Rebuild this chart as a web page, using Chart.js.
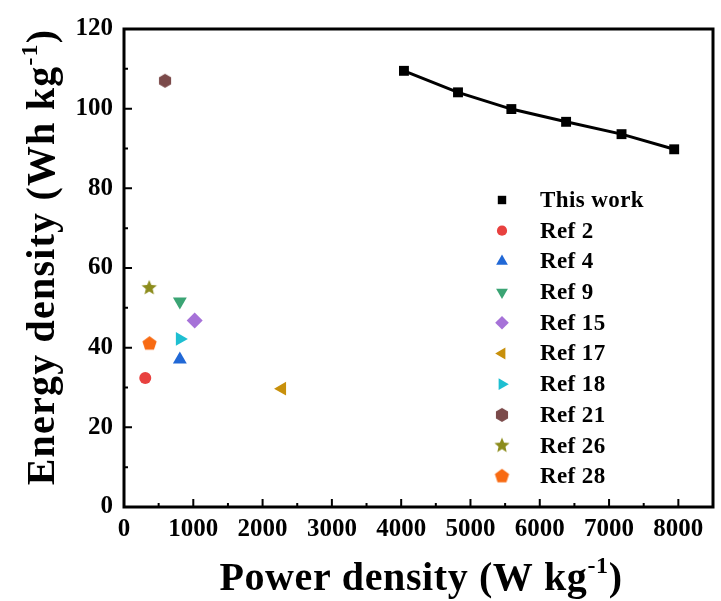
<!DOCTYPE html>
<html>
<head>
<meta charset="utf-8">
<script src="https://cdn.jsdelivr.net/npm/chart.js@4.4.0/dist/chart.umd.min.js"></script>
<style>
  html, body { margin: 0; padding: 0; background: #fff; }
  #grafica { display: block; }
</style>
</head>
<body>
<canvas id="grafica" width="721" height="601"></canvas>
<script>
// ===== Datos =====
const thisWorkPower  = [4040, 4820, 5590, 6380, 7180, 7940];
const thisWorkEnergy = [109.5, 104.1, 99.9, 96.7, 93.6, 89.8];

const refLabels = ['Ref 2', 'Ref 4', 'Ref 9', 'Ref 15', 'Ref 17', 'Ref 18', 'Ref 21', 'Ref 26', 'Ref 28'];
const refPower  = [307, 806, 806, 1020, 2281, 806, 592, 364, 368];
const refEnergy = [32.4, 37.0, 51.6, 46.8, 29.7, 42.2, 107.0, 55.0, 41.0];

const xTicks = [0, 1000, 2000, 3000, 4000, 5000, 6000, 7000, 8000];
const yTicks = [0, 20, 40, 60, 80, 100, 120];

const SERIF = '"Liberation Serif", "Times New Roman", serif';

// marcadores propios (hexágono, pentágono, estrella)
function polygonMarker(sides, r, color, start) {
  const c = document.createElement('canvas');
  const s = Math.ceil(r * 2 + 2);
  c.width = c.height = s;
  const g = c.getContext('2d');
  g.fillStyle = color;
  g.beginPath();
  for (let k = 0; k < sides; k++) {
    const a = start + k * 2 * Math.PI / sides;
    const px = s / 2 + r * Math.cos(a), py = s / 2 + r * Math.sin(a);
    if (k) g.lineTo(px, py); else g.moveTo(px, py);
  }
  g.closePath();
  g.fill();
  return c;
}
function starMarker(r, color) {
  const c = document.createElement('canvas');
  const s = Math.ceil(r * 2 + 2);
  c.width = c.height = s;
  const g = c.getContext('2d');
  g.fillStyle = color;
  g.beginPath();
  for (let k = 0; k < 10; k++) {
    const a = -Math.PI / 2 + k * Math.PI / 5;
    const rr = k % 2 ? r * 0.45 : r;
    const px = s / 2 + rr * Math.cos(a), py = s / 2 + rr * Math.sin(a);
    if (k) g.lineTo(px, py); else g.moveTo(px, py);
  }
  g.closePath();
  g.fill();
  return c;
}

// estilo de cada referencia
const refStyles = [
  { color: '#e8413f', style: 'circle',   rot: 0,   r: 6 },
  { color: '#2168d6', style: 'triangle', rot: 0,   r: 8 },
  { color: '#3ba474', style: 'triangle', rot: 180, r: 8 },
  { color: '#a672d8', style: 'rectRot',  rot: 0,   r: 8 },
  { color: '#c8900b', style: 'triangle', rot: 270, r: 8 },
  { color: '#1ebfd1', style: 'triangle', rot: 90,  r: 8 },
  { color: '#7b4a4a', style: polygonMarker(6, 7, '#7b4a4a', Math.PI / 2), rot: 0, r: 7 },
  { color: '#8c8c1c', style: starMarker(8, '#8c8c1c'), rot: 0, r: 8 },
  { color: '#f86a12', style: polygonMarker(5, 7.5, '#f86a12', -Math.PI / 2), rot: 0, r: 7 }
];

const datasets = [{
  label: 'This work',
  data: thisWorkPower.map((x, i) => ({ x: x, y: thisWorkEnergy[i] })),
  showLine: true,
  borderColor: '#000',
  backgroundColor: '#000',
  borderWidth: 3,
  pointStyle: 'rect',
  pointRadius: 7,
  pointBorderWidth: 0,
  clip: false
}];
refLabels.forEach((lab, i) => {
  const st = refStyles[i];
  datasets.push({
    label: lab,
    data: [{ x: refPower[i], y: refEnergy[i] }],
    backgroundColor: st.color,
    borderColor: st.color,
    pointStyle: st.style,
    pointRotation: st.rot,
    pointRadius: st.r,
    pointBorderWidth: 0,
    clip: false
  });
});

// ===== Plugin: marco, ticks hacia adentro, títulos y leyenda =====
const framePlugin = {
  id: 'frame',
  afterDraw(chart) {
    const ctx = chart.ctx;
    const a = chart.chartArea;
    const xs = chart.scales.x, ys = chart.scales.y;
    ctx.save();
    ctx.strokeStyle = '#000';
    ctx.lineWidth = 2;
    ctx.beginPath();
    for (let v = 500; v < 8500; v += 500) {
      const px = xs.getPixelForValue(v);
      const len = v % 1000 === 0 ? 8 : 4;
      ctx.moveTo(px, a.bottom);
      ctx.lineTo(px, a.bottom - len);
    }
    for (let v = 10; v < 120; v += 10) {
      const py = ys.getPixelForValue(v);
      const len = v % 20 === 0 ? 8 : 4;
      ctx.moveTo(a.left, py);
      ctx.lineTo(a.left + len, py);
    }
    ctx.stroke();
    ctx.lineWidth = 3;
    ctx.strokeRect(a.left, a.top, a.right - a.left, a.bottom - a.top);

    // títulos con superíndice
    function drawTitle(parts, cx, baseY, size, spacing) {
      ctx.letterSpacing = spacing + 'px';
      let w = 0;
      parts.forEach(p => {
        ctx.font = 'bold ' + (p.sup ? size * 0.6 : size) + 'px ' + SERIF;
        p.w = ctx.measureText(p.text).width;
        w += p.w;
      });
      let x = cx - w / 2;
      ctx.textBaseline = 'alphabetic';
      ctx.textAlign = 'left';
      parts.forEach(p => {
        ctx.font = 'bold ' + (p.sup ? size * 0.6 : size) + 'px ' + SERIF;
        ctx.fillText(p.text, x, p.sup ? baseY - size * 0.42 : baseY);
        x += p.w;
      });
      ctx.letterSpacing = '0px';
    }
    ctx.fillStyle = '#000';
    drawTitle([{ text: 'Power density (W kg' }, { text: '-1', sup: true }, { text: ')' }], 421, 590, 40, 0.6);
    ctx.save();
    ctx.translate(54, 257);
    ctx.rotate(-Math.PI / 2);
    drawTitle([{ text: 'Energy density (Wh kg' }, { text: '-1', sup: true }, { text: ')' }], 0, 0, 40, 1.2);
    ctx.restore();

    // leyenda
    const helpers = Chart.helpers;
    chart.data.datasets.forEach((ds, i) => {
      const y = 200 + i * 30.7;
      ctx.fillStyle = ds.backgroundColor;
      ctx.strokeStyle = ds.backgroundColor;
      if (helpers && helpers.drawPoint) {
        helpers.drawPoint(ctx, {
          pointStyle: ds.pointStyle,
          rotation: ds.pointRotation || 0,
          radius: ds.pointRadius * 0.85,
          borderWidth: 0
        }, 502, y);
      }
      ctx.fillStyle = '#000';
      ctx.font = 'bold 23px ' + SERIF;
      ctx.letterSpacing = '0.4px';
      ctx.textAlign = 'left';
      ctx.textBaseline = 'middle';
      ctx.fillText(ds.label, 540, y + 1);
      ctx.letterSpacing = '0px';
    });
    ctx.restore();
  }
};

document.addEventListener('DOMContentLoaded', function () {
  const canvas = document.getElementById('grafica');
  if (!canvas || typeof Chart === 'undefined') {
    console.warn('Chart.js no está cargado o #grafica no existe');
    return;
  }
  new Chart(canvas.getContext('2d'), {
    type: 'scatter',
    data: { datasets: datasets },
    options: {
      responsive: false,
      animation: false,
      layout: { padding: { left: 0, top: 29, right: 3, bottom: 0 } },
      plugins: { legend: { display: false }, tooltip: { enabled: false } },
      scales: {
        x: {
          type: 'linear',
          min: 0,
          max: 8500,
          afterFit(scale) {
            scale.height = 94;
            scale.paddingLeft = 0;
            scale.paddingRight = 0;
          },
          afterBuildTicks(scale) { scale.ticks = xTicks.map(v => ({ value: v })); },
          grid: { display: false, drawTicks: false },
          border: { display: false },
          ticks: {
            color: '#000',
            padding: 8,
            maxRotation: 0,
            autoSkip: false,
            callback: v => String(v),
            font: { family: SERIF, size: 25, weight: 'bold' }
          }
        },
        y: {
          type: 'linear',
          min: 0,
          max: 120,
          afterFit(scale) {
            scale.width = 124;
            scale.paddingTop = 0;
            scale.paddingBottom = 0;
          },
          afterBuildTicks(scale) { scale.ticks = yTicks.map(v => ({ value: v })); },
          grid: { display: false, drawTicks: false },
          border: { display: false },
          ticks: {
            color: '#000',
            padding: 11,
            autoSkip: false,
            callback: v => String(v),
            font: { family: SERIF, size: 25, weight: 'bold' }
          }
        }
      }
    },
    plugins: [framePlugin]
  });
});
</script>
</body>
</html>
